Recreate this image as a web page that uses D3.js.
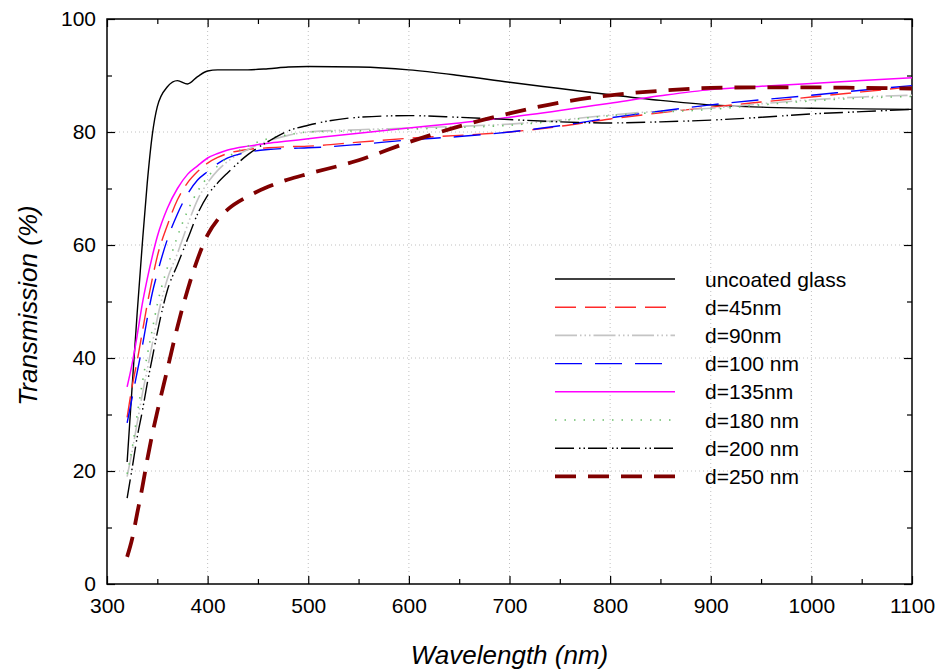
<!DOCTYPE html>
<html>
<head>
<meta charset="utf-8">
<script src="https://cdn.jsdelivr.net/npm/d3@7"></script>
<style>
  html, body { margin: 0; padding: 0; background: #fff; }
  svg { display: block; font-family: "Liberation Sans", Arial, sans-serif; }
</style>
</head>
<body>
<svg id="chart" width="939" height="671"></svg>
<script>
// ---- Data ----
const wavelengths = [320, 325, 330, 335, 340, 345, 350, 360, 370, 380, 390, 400, 410, 420, 440, 460, 480, 500, 550, 600, 650, 700, 750, 800, 850, 900, 950, 1000, 1050, 1100];

const uncoated = [21.6, 35, 48, 60, 71, 79.5, 84.5, 88, 89.1, 88.5, 89.8, 90.8, 91, 91, 91, 91.2, 91.5, 91.6, 91.5, 91, 90, 88.8, 87.7, 86.6, 85.6, 84.8, 84.4, 84.2, 84.1, 84.0];
const d45  = [29.5, 35, 39.5, 44.5, 49.5, 54, 58, 63.5, 68, 71, 73, 74.5, 75.5, 76.2, 76.9, 77.2, 77.4, 77.5, 78.2, 78.9, 79.4, 80, 81, 82.3, 83.4, 84.4, 85.3, 86.2, 87.1, 88.0];
const d90  = [19, 23.5, 28.5, 33.5, 38, 42.5, 47, 54, 58.5, 63.5, 68, 71, 73.2, 74.8, 76.9, 78.4, 79.4, 80, 80.4, 80.7, 81, 81.4, 82.1, 83, 83.7, 84.2, 85, 85.7, 86.2, 86.5];
const d100 = [28.5, 33, 37.5, 42, 47, 51.5, 55, 61, 65.5, 69, 71.5, 73, 74.4, 75.4, 76.4, 76.9, 77.1, 77.2, 77.8, 78.6, 79.2, 80, 81.1, 82.5, 83.7, 84.8, 85.7, 86.5, 87.4, 88.2];
const d135 = [34.9, 39, 44, 49.5, 54, 58, 61.5, 66.5, 70, 72.5, 74, 75.4, 76.2, 76.8, 77.5, 78, 78.4, 78.8, 79.8, 80.7, 81.6, 82.6, 83.8, 85.1, 86.4, 87.5, 88.1, 88.6, 89.1, 89.6];
const d180 = [19.5, 24, 30, 35.5, 40.5, 45, 49.5, 56, 61.5, 66, 69.5, 72, 74, 75.5, 77.5, 78.8, 79.5, 80, 80.2, 80.5, 80.8, 81.2, 82, 82.9, 83.5, 84, 84.8, 85.5, 86, 86.3];
const d200 = [15.2, 20.5, 26, 30.5, 35.5, 40, 44.5, 52, 56.5, 61, 65.5, 68.8, 71, 72.8, 76, 78.3, 80.2, 81.2, 82.6, 82.9, 82.6, 82.2, 81.8, 81.6, 81.8, 82.1, 82.6, 83.2, 83.6, 84.0];
const d250 = [4.8, 8, 12.5, 17, 22, 26.5, 30.5, 38, 45.5, 52, 57.5, 61.8, 64.5, 66.3, 68.6, 70.3, 71.6, 72.6, 75, 78.2, 81, 83.3, 85.2, 86.5, 87.3, 87.8, 87.9, 87.9, 87.8, 87.7];

const seriesNames = ["uncoated glass", "d=45nm", "d=90nm", "d=100 nm", "d=135nm", "d=180 nm", "d=200 nm", "d=250 nm"];
const seriesValues = [uncoated, d45, d90, d100, d135, d180, d200, d250];

const xTicksMajor = [300, 400, 500, 600, 700, 800, 900, 1000, 1100];
const xTicksMinor = [350, 450, 550, 650, 750, 850, 950, 1050];
const yTicksMajor = [0, 20, 40, 60, 80, 100];
const yTicksMinor = [10, 30, 50, 70, 90];

// ---- Styles (kept separate from data) ----
const styles = [
  { color: "#000000", width: 1.4, dash: null },
  { color: "#ff2a2a", width: 1.4, dash: "21,9" },
  { color: "#c4c4c4", width: 1.6, dash: "22,3,1.5,3,1.5,3,1.5,3" },
  { color: "#0000ff", width: 1.4, dash: "27,13" },
  { color: "#ff00ff", width: 1.5, dash: null },
  { color: "#6cbf6c", width: 1.6, dash: "1.5,8" },
  { color: "#000000", width: 1.4, dash: "19,5,1.5,3,1.5,3" },
  { color: "#800000", width: 3.8, dash: "21,12" }
];

// ---- Layout ----
const svg = d3.select("#chart");
const margin = { left: 107, right: 27, top: 19, bottom: 87 };
const W = 939, H = 671;
const x = d3.scaleLinear().domain([300, 1100]).range([margin.left, W - margin.right]);
const y = d3.scaleLinear().domain([0, 100]).range([H - margin.bottom, margin.top]);
const FONT = "'Liberation Sans', Arial, sans-serif";

// grid
const grid = svg.append("g").attr("stroke", "#c0c0c0").attr("stroke-width", 1).attr("stroke-dasharray", "1,3");
grid.selectAll(".gx").data(xTicksMajor.slice(1, -1)).enter().append("line")
  .attr("x1", d => x(d)).attr("x2", d => x(d)).attr("y1", y(0)).attr("y2", y(100));
grid.selectAll(".gy").data(yTicksMajor.slice(1, -1)).enter().append("line")
  .attr("y1", d => y(d)).attr("y2", d => y(d)).attr("x1", x(300)).attr("x2", x(1100));

// axes
function drawAxis(axisFn, scale, ticks, size, labels, transform) {
  const a = axisFn(scale).tickValues(ticks).tickSizeInner(-size).tickSizeOuter(0).tickPadding(10)
    .tickFormat(labels ? d3.format("d") : "");
  const g = svg.append("g").attr("transform", transform).call(a);
  g.select(".domain").remove();
  g.selectAll("line").attr("stroke", "#000").attr("stroke-width", 1.2);
  g.selectAll("text").attr("font-size", 21).attr("fill", "#000").attr("font-family", FONT);
  return g;
}
const bx = `translate(0,${y(0)})`, tx = `translate(0,${y(100)})`;
const ly = `translate(${x(300)},0)`, ry = `translate(${x(1100)},0)`;
const gb = drawAxis(d3.axisBottom, x, xTicksMajor, 8, true, bx);
gb.selectAll("text").attr("dy", "0.9em");
drawAxis(d3.axisBottom, x, xTicksMinor, 5, false, bx);
drawAxis(d3.axisTop, x, xTicksMajor, 8, false, tx);
drawAxis(d3.axisTop, x, xTicksMinor, 5, false, tx);
const gl = drawAxis(d3.axisLeft, y, yTicksMajor, 8, true, ly);
gl.selectAll("text").attr("dx", "-1");
drawAxis(d3.axisLeft, y, yTicksMinor, 5, false, ly);
drawAxis(d3.axisRight, y, yTicksMajor, 8, false, ry);
drawAxis(d3.axisRight, y, yTicksMinor, 5, false, ry);

// frame
svg.append("rect").attr("x", x(300)).attr("y", y(100))
  .attr("width", x(1100) - x(300)).attr("height", y(0) - y(100))
  .attr("fill", "none").attr("stroke", "#000").attr("stroke-width", 1.5);

// lines
const line = d3.line().x((d, i) => x(wavelengths[i])).y(d => y(d)).curve(d3.curveMonotoneX);
const lines = svg.append("g");
seriesValues.forEach((vals, k) => {
  const s = styles[k];
  lines.append("path").datum(vals).attr("d", line)
    .attr("fill", "none").attr("stroke", s.color).attr("stroke-width", s.width)
    .attr("stroke-dasharray", s.dash).attr("stroke-linejoin", "round");
});

// legend
const lg = svg.append("g");
seriesNames.forEach((name, k) => {
  const s = styles[k];
  const yy = 279 + k * 28.2;
  lg.append("line").attr("x1", 555).attr("x2", 675).attr("y1", yy).attr("y2", yy)
    .attr("stroke", s.color).attr("stroke-width", s.width).attr("stroke-dasharray", s.dash);
  lg.append("text").attr("x", 705).attr("y", yy).attr("dy", "0.36em")
    .attr("font-size", 21).attr("fill", "#000").attr("font-family", FONT).text(name);
});

// axis titles
svg.append("text").attr("x", (x(300) + x(1100)) / 2).attr("y", 664)
  .attr("text-anchor", "middle").attr("font-size", 26).attr("font-style", "italic")
  .attr("font-family", FONT).text("Wavelength (nm)");
svg.append("text").attr("transform", `translate(37,${(y(0) + y(100)) / 2 + 4}) rotate(-90)`)
  .attr("text-anchor", "middle").attr("font-size", 26).attr("font-style", "italic")
  .attr("font-family", FONT).text("Transmission (%)");
</script>
</body>
</html>
